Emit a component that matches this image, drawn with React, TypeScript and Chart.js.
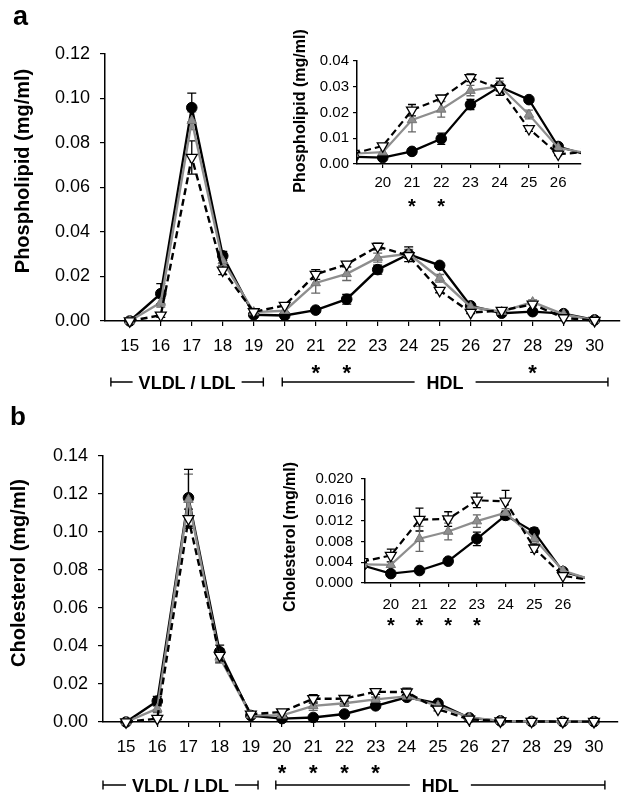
import React, { useEffect, useRef } from 'react';
import { Chart, registerables } from 'chart.js';

Chart.register(...registerables);

// ---------- data ----------
const FRACTIONS = [15, 16, 17, 18, 19, 20, 21, 22, 23, 24, 25, 26, 27, 28, 29, 30];
const INSET_FRACTIONS = [20, 21, 22, 23, 24, 25, 26];

// Phospholipid (mg/ml)
const PL_BLACK = [0, 0.0123, 0.0959, 0.0293, 0.0028, 0.0025, 0.0049, 0.0098, 0.0231, 0.0300, 0.0250, 0.0068, 0.0035, 0.0042, 0.0033, 0.0005];
const PL_GRAY = [0, 0.0083, 0.0900, 0.0270, 0.0040, 0.0046, 0.0171, 0.0212, 0.0285, 0.0302, 0.0192, 0.0063, 0.0042, 0.0085, 0.0030, 0.0004];
const PL_WHITE = [0, 0.0026, 0.0735, 0.0228, 0.0041, 0.0070, 0.0209, 0.0255, 0.0335, 0.0293, 0.0137, 0.0038, 0.0047, 0.0075, 0.0014, 0.0002];
const PL_BLACK_ERR = [0, 0.0045, 0.0065, 0.0020, 0, 0, 0.0010, 0.0022, 0.0020, 0.0033, 0.0010, 0.0008, 0, 0.0008, 0, 0];
const PL_GRAY_ERR = [0, 0.0020, 0.0040, 0.0020, 0, 0, 0.0046, 0.0030, 0.0020, 0.0020, 0.0017, 0, 0, 0.0010, 0, 0];
const PL_WHITE_ERR = [0, 0.0010, 0.0075, 0.0020, 0, 0, 0.0022, 0.0012, 0.0015, 0, 0.0010, 0.0005, 0, 0, 0, 0];

// Cholesterol (mg/ml)
const CH_BLACK = [0, 0.0110, 0.1180, 0.0370, 0.0034, 0.0018, 0.0024, 0.0042, 0.0085, 0.0130, 0.0098, 0.0022, 0.0006, 0.0003, 0.0002, 0.0002];
const CH_GRAY = [0, 0.0070, 0.1170, 0.0340, 0.0036, 0.0035, 0.0085, 0.0099, 0.0119, 0.0135, 0.0085, 0.0024, 0.0006, 0.0003, 0.0002, 0.0002];
const CH_WHITE = [0, 0.0018, 0.1070, 0.0350, 0.0041, 0.0053, 0.0122, 0.0123, 0.0159, 0.0157, 0.0067, 0.0014, 0.0005, 0.0003, 0.0002, 0.0002];
const CH_BLACK_ERR = [0, 0.0025, 0.0150, 0.0035, 0, 0, 0.0005, 0.0004, 0.0013, 0.0008, 0.0008, 0, 0, 0, 0, 0];
const CH_GRAY_ERR = [0, 0.0020, 0.0135, 0.0030, 0, 0.0005, 0.0024, 0.0016, 0.0012, 0.0008, 0.0006, 0, 0, 0, 0, 0];
const CH_WHITE_ERR = [0, 0.0005, 0.0050, 0.0035, 0, 0.0012, 0.0022, 0.0014, 0.0014, 0.0021, 0.0008, 0, 0, 0, 0, 0];

const PL_TICKS = [0, 0.02, 0.04, 0.06, 0.08, 0.10, 0.12];
const PL_INSET_TICKS = [0, 0.01, 0.02, 0.03, 0.04];
const CH_TICKS = [0, 0.02, 0.04, 0.06, 0.08, 0.10, 0.12, 0.14];
const CH_INSET_TICKS = [0, 0.004, 0.008, 0.012, 0.016, 0.020];

const PL_STARS = [21, 22, 28];
const PL_INSET_STARS = [21, 22];
const CH_STARS = [20, 21, 22, 23];
const CH_INSET_STARS = [20, 21, 22, 23];

const PL_TITLE = 'Phospholipid (mg/ml)';
const CH_TITLE = 'Cholesterol (mg/ml)';

// ---------- style ----------
const FAMILY = '"Liberation Sans", Arial, Helvetica, sans-serif';
const GRAY = '#8e8e8e';

// ---------- plugins ----------
const errorBarPlugin = {
  id: 'errorBars',
  beforeDatasetsDraw(chart: any) {
    const ctx = chart.ctx;
    const xs = chart.scales.x;
    const ys = chart.scales.y;
    const a = chart.chartArea;
    const cap = chart.$errCap || 4;
    ctx.save();
    ctx.beginPath();
    ctx.rect(a.left, a.top - 40, a.right - a.left, a.bottom - a.top + 80);
    ctx.clip();
    chart.data.datasets.forEach((ds: any) => {
      if (!ds.errors) return;
      ctx.strokeStyle = ds.errorColor;
      ctx.lineWidth = 1.3;
      ds.data.forEach((p: any, i: number) => {
        const e = ds.errors[i];
        if (!e) return;
        const x = xs.getPixelForValue(p.x);
        const yTop = ys.getPixelForValue(p.y + e);
        const yBot = ys.getPixelForValue(p.y - e);
        ctx.beginPath();
        ctx.moveTo(x, yBot);
        ctx.lineTo(x, yTop);
        ctx.moveTo(x - cap, yTop);
        ctx.lineTo(x + cap, yTop);
        ctx.moveTo(x - cap, yBot);
        ctx.lineTo(x + cap, yBot);
        ctx.stroke();
      });
    });
    ctx.restore();
  },
};

type TextItem = { text: string; x: number; y: number; font: string; rot?: boolean; align?: string };
type Bracket = { from: number; to: number; label: string; gap: number };
type Annot = {
  ox: number;
  oy: number;
  texts: TextItem[];
  stars: number[];
  starY: number;
  starFont: string;
  brackets: Bracket[];
  bracketY: number;
  bracketFont: string;
};

function makeAnnotPlugin(a: Annot) {
  return {
    id: 'annot',
    afterDraw(chart: any) {
      const ctx = chart.ctx;
      const xs = chart.scales.x;
      ctx.save();
      ctx.fillStyle = '#000';
      ctx.strokeStyle = '#000';
      for (const t of a.texts) {
        ctx.save();
        ctx.font = t.font;
        ctx.textAlign = (t.align as any) || 'center';
        ctx.textBaseline = t.rot ? 'middle' : 'alphabetic';
        ctx.translate(t.x - a.ox, t.y - a.oy);
        if (t.rot) ctx.rotate(-Math.PI / 2);
        ctx.fillText(t.text, 0, 0);
        ctx.restore();
      }
      ctx.font = a.starFont;
      ctx.textAlign = 'center';
      ctx.textBaseline = 'alphabetic';
      for (const f of a.stars) {
        ctx.fillText('*', xs.getPixelForValue(f), a.starY - a.oy);
      }
      ctx.font = a.bracketFont;
      ctx.lineWidth = 1.4;
      const by = a.bracketY - a.oy;
      for (const b of a.brackets) {
        const x0 = xs.getPixelForValue(b.from);
        const x1 = xs.getPixelForValue(b.to);
        const mid = (x0 + x1) / 2;
        const w = ctx.measureText(b.label).width;
        ctx.beginPath();
        ctx.moveTo(x0, by - 4.5);
        ctx.lineTo(x0, by + 4.5);
        ctx.moveTo(x0, by);
        ctx.lineTo(mid - w / 2 - b.gap, by);
        ctx.moveTo(mid + w / 2 + b.gap, by);
        ctx.lineTo(x1, by);
        ctx.moveTo(x1, by - 4.5);
        ctx.lineTo(x1, by + 4.5);
        ctx.stroke();
        ctx.textAlign = 'center';
        ctx.fillText(b.label, mid, by + 6.5);
      }
      ctx.restore();
    },
  };
}

// ---------- config builder ----------
type Panel = {
  black: number[];
  gray: number[];
  white: number[];
  errB: number[];
  errG: number[];
  errW: number[];
  inset: boolean;
  xMin: number;
  xMax: number;
  xTicks: number[];
  yTicks: number[];
  decimals: number;
  padding: { left: number; top: number; right: number; bottom: number };
  yWidth: number;
  xHeight: number;
  yFont: number;
  xFont: number;
  yTickLen: number;
  yTickPad: number;
  xTickLen: number;
  xTickPad: number;
  lineW: number;
  cap: number;
  annot: Annot;
};

function makeConfig(p: Panel): any {
  const pts = (vals: number[]) => FRACTIONS.map((f, i) => ({ x: f, y: vals[i] }));
  const clip = p.inset ? { left: 0, right: 0, top: 30, bottom: 30 } : false;
  const datasets = [
    {
      label: 'open',
      data: pts(p.white),
      errors: p.errW,
      errorColor: '#000',
      borderColor: '#000',
      borderWidth: p.lineW,
      borderDash: [7, 4],
      pointStyle: 'triangle',
      pointRotation: 180,
      pointRadius: 6.3,
      pointBackgroundColor: '#fff',
      pointBorderColor: '#000',
      pointBorderWidth: 1.3,
      tension: 0,
      clip,
    },
    {
      label: 'gray',
      data: pts(p.gray),
      errors: p.errG,
      errorColor: '#666',
      borderColor: GRAY,
      borderWidth: p.lineW,
      pointStyle: 'triangle',
      pointRadius: 5.5,
      pointBackgroundColor: GRAY,
      pointBorderColor: '#777',
      pointBorderWidth: 1,
      tension: 0,
      clip,
    },
    {
      label: 'black',
      data: pts(p.black),
      errors: p.errB,
      errorColor: '#000',
      borderColor: '#000',
      borderWidth: p.lineW,
      pointStyle: 'circle',
      pointRadius: 5.3,
      pointBackgroundColor: '#000',
      pointBorderColor: '#000',
      pointBorderWidth: 1,
      tension: 0,
      clip,
    },
  ];
  return {
    type: 'line',
    data: { datasets },
    options: {
      responsive: false,
      animation: false,
      events: [],
      layout: { padding: p.padding },
      plugins: { legend: { display: false }, tooltip: { enabled: false }, title: { display: false } },
      scales: {
        x: {
          type: 'linear',
          min: p.xMin,
          max: p.xMax,
          afterBuildTicks: (s: any) => {
            s.ticks = p.xTicks.map((v) => ({ value: v }));
          },
          afterFit: (s: any) => {
            s.height = p.xHeight;
          },
          ticks: {
            font: { family: FAMILY, size: p.xFont },
            color: '#000',
            padding: p.xTickPad,
            maxRotation: 0,
            autoSkip: false,
            callback: (v: any) => String(v),
          },
          grid: { drawOnChartArea: false, drawTicks: true, tickLength: p.xTickLen, color: '#000', lineWidth: 1.2 },
          border: { display: true, color: '#000', width: 1.5 },
        },
        y: {
          type: 'linear',
          min: p.yTicks[0],
          max: p.yTicks[p.yTicks.length - 1],
          afterBuildTicks: (s: any) => {
            s.ticks = p.yTicks.map((v) => ({ value: v }));
          },
          afterFit: (s: any) => {
            s.width = p.yWidth;
          },
          ticks: {
            font: { family: FAMILY, size: p.yFont },
            color: '#000',
            padding: p.yTickPad,
            autoSkip: false,
            callback: (v: any) => Number(v).toFixed(p.decimals),
          },
          grid: { drawOnChartArea: false, drawTicks: true, tickLength: p.yTickLen, color: '#000', lineWidth: 1.2 },
          border: { display: true, color: '#000', width: 1.5 },
        },
      },
    },
    plugins: [errorBarPlugin, makeAnnotPlugin(p.annot)],
  };
}

// ---------- component ----------
function ChartBox(props: { left: number; top: number; width: number; height: number; panel: Panel }) {
  const ref = useRef<HTMLCanvasElement>(null);
  useEffect(() => {
    const chart: any = new Chart(ref.current as HTMLCanvasElement, makeConfig(props.panel));
    chart.$errCap = props.panel.cap;
    chart.draw();
    return () => chart.destroy();
  }, []);
  return (
    <canvas
      ref={ref}
      width={props.width}
      height={props.height}
      style={{ position: 'absolute', left: props.left, top: props.top, width: props.width, height: props.height }}
    />
  );
}

const mainA: Panel = {
  black: PL_BLACK, gray: PL_GRAY, white: PL_WHITE,
  errB: PL_BLACK_ERR, errG: PL_GRAY_ERR, errW: PL_WHITE_ERR,
  inset: false, xMin: 14.2, xMax: 30.8, xTicks: FRACTIONS, yTicks: PL_TICKS, decimals: 2,
  padding: { left: 8, top: 54, right: 5, bottom: 0 }, yWidth: 97, xHeight: 79,
  yFont: 18, xFont: 17, yTickLen: 5, yTickPad: 10, xTickLen: 5, xTickPad: 10, lineW: 2.4, cap: 4.5,
  annot: {
    ox: 0, oy: 0,
    texts: [
      { text: 'a', x: 13, y: 25, font: `bold 27px ${FAMILY}`, align: 'left' },
      { text: PL_TITLE, x: 23, y: 171, font: `bold 20px ${FAMILY}`, rot: true },
    ],
    stars: PL_STARS, starY: 380, starFont: `bold 22px ${FAMILY}`,
    brackets: [
      { from: 14.39, to: 19.31, label: 'VLDL / LDL', gap: 6 },
      { from: 19.92, to: 30.43, label: 'HDL', gap: 12 },
    ],
    bracketY: 382, bracketFont: `bold 18px ${FAMILY}`,
  },
};

const insetA: Panel = {
  black: PL_BLACK, gray: PL_GRAY, white: PL_WHITE,
  errB: PL_BLACK_ERR, errG: PL_GRAY_ERR, errW: PL_WHITE_ERR,
  inset: true, xMin: 19.12, xMax: 26.78, xTicks: INSET_FRACTIONS, yTicks: PL_INSET_TICKS, decimals: 2,
  padding: { left: 30, top: 41, right: 19, bottom: 0 }, yWidth: 47, xHeight: 51,
  yFont: 15, xFont: 15, yTickLen: 4, yTickPad: 4, xTickLen: 4, xTickPad: 6, lineW: 2.2, cap: 4,
  annot: {
    ox: 280, oy: 20,
    texts: [{ text: PL_TITLE, x: 301, y: 111, font: `bold 16px ${FAMILY}`, rot: true }],
    stars: PL_INSET_STARS, starY: 213, starFont: `bold 20px ${FAMILY}`,
    brackets: [], bracketY: 0, bracketFont: `bold 16px ${FAMILY}`,
  },
};

const mainB: Panel = {
  black: CH_BLACK, gray: CH_GRAY, white: CH_WHITE,
  errB: CH_BLACK_ERR, errG: CH_GRAY_ERR, errW: CH_WHITE_ERR,
  inset: false, xMin: 14.26, xMax: 30.77, xTicks: FRACTIONS, yTicks: CH_TICKS, decimals: 2,
  padding: { left: 8, top: 56, right: 9, bottom: 0 }, yWidth: 95, xHeight: 79,
  yFont: 18, xFont: 17, yTickLen: 5, yTickPad: 10, xTickLen: 5, xTickPad: 10, lineW: 2.4, cap: 4.5,
  annot: {
    ox: 0, oy: 400,
    texts: [
      { text: 'b', x: 10, y: 425, font: `bold 26px ${FAMILY}`, align: 'left' },
      { text: CH_TITLE, x: 19, y: 573, font: `bold 20px ${FAMILY}`, rot: true },
    ],
    stars: CH_STARS, starY: 780, starFont: `bold 22px ${FAMILY}`,
    brackets: [
      { from: 14.26, to: 19.23, label: 'VLDL / LDL', gap: 6 },
      { from: 19.8, to: 30.35, label: 'HDL', gap: 12 },
    ],
    bracketY: 785, bracketFont: `bold 18px ${FAMILY}`,
  },
};

const insetB: Panel = {
  black: CH_BLACK, gray: CH_GRAY, white: CH_WHITE,
  errB: CH_BLACK_ERR, errG: CH_GRAY_ERR, errW: CH_WHITE_ERR,
  inset: true, xMin: 19.1, xMax: 26.77, xTicks: INSET_FRACTIONS, yTicks: CH_INSET_TICKS, decimals: 3,
  padding: { left: 30, top: 39, right: 10, bottom: 0 }, yWidth: 60, xHeight: 52,
  yFont: 15, xFont: 15, yTickLen: 4, yTickPad: 8, xTickLen: 4, xTickPad: 9, lineW: 2.2, cap: 4,
  annot: {
    ox: 275, oy: 440,
    texts: [{ text: CH_TITLE, x: 291, y: 537, font: `bold 16px ${FAMILY}`, rot: true }],
    stars: CH_INSET_STARS, starY: 632, starFont: `bold 20px ${FAMILY}`,
    brackets: [], bracketY: 0, bracketFont: `bold 16px ${FAMILY}`,
  },
};

export default function App() {
  return (
    <div style={{ position: 'absolute', left: 0, top: 0, width: 627, height: 801, background: '#fff', overflow: 'hidden' }}>
      <ChartBox left={0} top={0} width={627} height={400} panel={mainA} />
      <ChartBox left={0} top={400} width={627} height={401} panel={mainB} />
      <ChartBox left={280} top={20} width={320} height={195} panel={insetA} />
      <ChartBox left={275} top={440} width={320} height={195} panel={insetB} />
    </div>
  );
}
